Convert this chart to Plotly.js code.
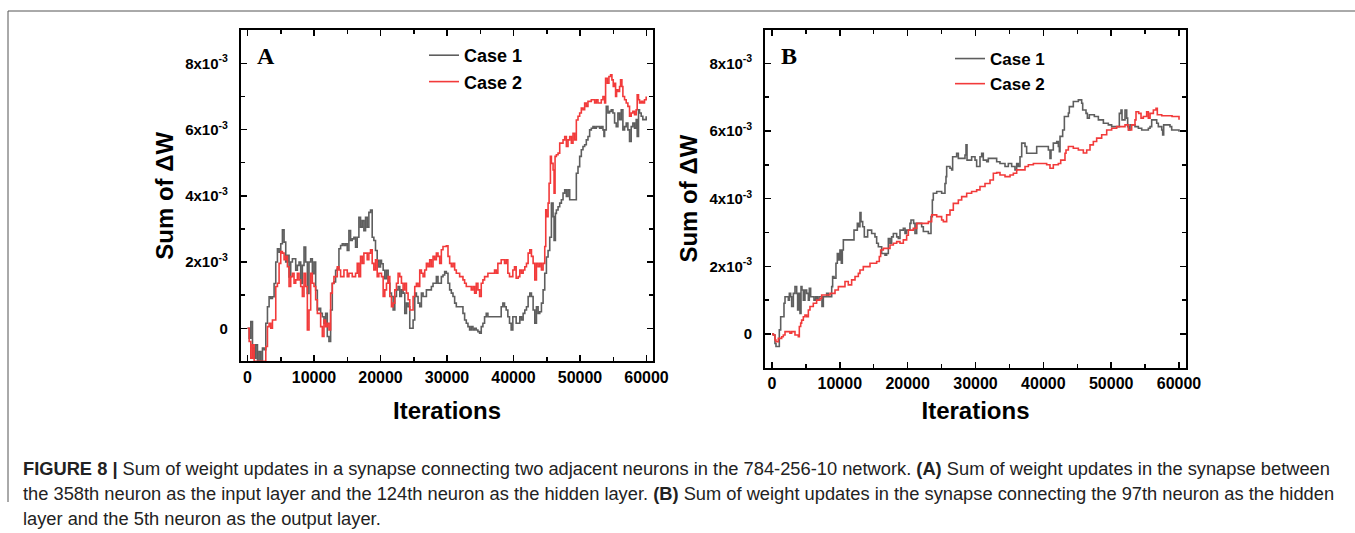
<!DOCTYPE html>
<html>
<head>
<meta charset="utf-8">
<script src="https://cdn.plot.ly/plotly-3.0.1.min.js"></script>
<style>html,body{margin:0;padding:0;background:#fff;}#chart{width:1355px;height:533px;}</style>
</head>
<body>
<div id="chart"></div>
<script>
// ---------- DATA (sum of ΔW in units of 1e-3) ----------
const iterA1 = [0,250,500,750,1000,1250,1500,1750,2000,2250,2500,2750,3000,3250,3500,3750,4000,4250,4500,4750,5000,5250,5500,5750,6000,6250,6500,6750,7000,7250,7500,7750,8000,8250,8500,8750,9000,9250,9500,9750,10000,10250,10500,10750,11000,11250,11500,11750,12000,12250,12500,12750,13000,13250,13500,13750,14000,14250,14500,14750,15000,15250,15500,15750,16000,16250,16500,16750,17000,17250,17500,17750,18000,18250,18500,18750,19000,19250,19500,19750,20000,20150,20400,20650,20900,21150,21400,21650,21900,22150,22400,22650,22900,23150,23400,23650,23900,24150,24400,24650,24900,25150,25400,25650,25900,26150,26400,26900,27400,27650,27900,28400,28650,28900,29150,29400,29650,29900,30150,30400,30650,30900,31150,31400,31900,32400,32650,32900,33150,33400,33650,33900,34150,34400,34650,34900,35150,35400,35650,35900,36150,36900,37900,38150,38400,38650,38900,39150,39400,39650,39900,40400,40950,41200,41450,41700,41950,42200,42450,42700,42950,43200,43450,43700,43950,44200,44450,44700,44950,45200,45450,45700,45950,46100,46300,46450,46700,46950,47200,47450,47700,47950,48200,48450,49200,49450,49700,49950,50200,50450,50700,50950,51200,51450,51700,51950,52200,52450,52950,53200,53450,53600,53700,53950,54200,54450,54700,54950,55200,55450,55700,55950,56200,56450,56700,56950,57200,57450,57700,57950,58200,58450,58600,58800,58950,59200,59450,59700,59950];
const sumA1 = [0,-0.3,0.2,-0.6,-0.9,-0.5,-1.0,-0.7,-1.0,-0.6,-0.65,0.15,0.65,0.95,0.9,0.95,1.35,2.0,2.4,2.3,2.55,2.97,2.6,2.0,2.2,1.55,2.0,2.1,2.1,1.75,1.9,2.0,1.35,1.9,2.45,2.0,1.05,2.0,2.1,1.65,2.0,1.15,0.55,0.6,0.45,0.35,0.15,0.45,-0.25,-0.4,0.55,1.35,1.4,1.75,1.8,2.4,2.5,2.55,2.5,2.55,2.35,2.95,2.65,2.7,2.75,2.45,2.75,3.35,3.05,3.25,2.95,3.35,3.05,3.5,3.57,2.75,2.65,2.35,2.05,1.85,2.05,1.95,1.75,1.5,1.75,1.36,1.06,0.96,0.55,0.96,1.16,1.26,0.96,1.16,1.06,0.45,0.76,0.65,0,0,0.25,1.06,0.96,0.76,0.65,1.06,0.96,1.16,1.16,1.26,1.36,1.56,1.36,1.36,1.56,1.61,1.71,1.66,1.36,1.16,1.06,0.96,0.76,0.65,0.65,0.45,0.25,0.15,0.05,-0.05,0.05,-0.05,0,-0.05,-0.1,-0.15,0.05,0.15,0.35,0.45,0.35,0.35,0.35,0.65,0.76,0.65,0.55,0.35,0.15,-0.05,0.35,0.15,0.35,0.25,0.45,0.55,0.65,0.96,1.06,0.96,0.55,0.15,0.65,0.45,0.5,0.76,1.16,1.66,2.15,2.35,2.75,3.78,3.37,2.65,3.47,3.57,3.67,3.78,3.88,4.08,4.18,3.98,4.18,3.88,3.88,4.68,4.88,5.19,5.39,5.49,5.54,5.69,5.79,5.99,6.04,6.09,6.04,6.09,6.04,6.09,5.99,5.79,5.99,6.7,6.5,6.55,6.6,6.5,6.2,6.09,6.5,6.3,6.6,5.99,6.09,6.2,5.99,5.64,6.09,6.2,6.04,6.3,5.79,6.6,6.5,6.4,6.3,6.3,6.4];

const iterA2 = [0,250,500,750,1000,1500,2000,2500,2750,3000,3250,3500,3750,4000,4250,4500,4750,5000,5250,5500,5750,6000,6250,6500,6750,7000,7250,7500,7750,8000,8250,8500,8750,9000,9250,9500,9750,10000,10250,10500,11000,11250,11500,11750,12000,12250,12500,12750,13000,13500,13750,14000,14500,15000,15250,15750,16250,16500,16750,17000,17250,17500,18000,18250,18500,18750,19000,19250,19500,19750,20150,20400,20650,20900,21150,21400,21650,21900,22150,22400,22650,22900,23150,23400,23650,23900,24150,24400,24650,24900,25150,25400,25650,25900,26150,26400,26650,26900,27150,27400,27650,27900,28150,28400,28650,28900,29150,29400,29900,30150,30400,30650,30900,31150,31400,31900,32400,32650,32900,33400,33650,33900,34150,34400,34650,34900,35150,35400,35650,36150,36900,37150,37400,37650,38150,38650,38900,39150,39400,39900,40150,40400,40700,40950,41200,41450,41700,41950,42200,42450,42700,42950,43200,43450,43700,43950,44200,44450,44700,44850,44950,45200,45350,45550,45700,45950,46100,46250,46450,46700,46950,47450,47700,47950,48200,48450,48700,48950,49200,49450,49700,49950,50200,50450,50700,50950,51200,51700,52200,52450,52700,53200,53450,53700,53850,54100,54350,54600,54800,55000,55200,55350,55500,55700,55950,56100,56300,56450,56700,56950,57200,57450,57700,57950,58200,58450,58600,58800,58950,59200,59450,59700,59950];
const sumA2 = [0,-0.4,-0.9,-0.5,-1.0,-1.0,-1.0,-1.0,-0.55,0.05,0.15,0,0.25,0.25,1.26,1.36,1.96,2.32,2.27,2.07,2.17,1.86,1.26,1.56,1.66,1.36,1.46,1.66,1.46,1.26,0.96,1.66,1.26,-0.05,0.55,1.66,1.36,1.26,0.86,0.45,0.05,-0.25,0.25,0.05,0.15,-0.05,1.06,1.36,1.56,1.86,1.76,1.56,1.76,1.56,1.66,1.56,1.66,1.96,1.56,2.17,1.96,2.27,2.07,2.27,2.37,1.96,1.76,2.07,1.56,1.66,1.56,0.96,1.16,1.36,1.56,0.96,0.65,0.76,1.16,1.36,1.66,1.56,1.36,1.16,1.36,1.06,0.86,0.55,0.55,0.96,1.26,1.36,1.26,1.76,1.66,1.56,1.76,1.96,1.86,2.07,1.86,2.17,2.07,2.27,2.17,1.96,2.37,2.47,2.49,2.17,1.96,1.86,1.96,1.76,1.66,1.56,1.46,1.36,1.26,1.26,1.16,1.26,1.06,1.36,1.16,0.96,1.36,1.46,1.56,1.66,1.66,1.76,1.66,1.96,2.07,1.96,2.07,1.66,1.56,1.76,1.86,1.51,1.56,1.76,1.66,1.76,1.86,1.96,2.27,2.37,2.17,1.96,1.46,1.96,1.86,1.96,1.76,1.96,2.47,3.58,3.37,3.78,4.38,5.19,4.98,4.78,4.08,5.19,5.24,5.29,5.59,5.69,5.79,5.49,5.69,5.79,5.59,5.89,5.69,6.29,6.4,6.5,6.65,6.6,6.8,6.7,6.85,6.9,6.8,6.9,6.8,6.9,7.0,6.8,7.55,7.4,7.6,7.65,7.5,7.3,7.4,7.0,7.2,7.15,7.3,7.5,7.3,7.0,6.9,6.8,6.7,6.4,6.5,6.55,6.45,6.6,7.05,6.9,6.8,6.85,6.8,6.9,7.0];

const iterB1 = [0,200,440,590,930,1080,1280,1570,1770,1920,2160,2410,2560,2750,2900,3150,3390,3640,3780,3930,4130,4280,4420,4620,4860,5110,5360,5500,5700,6190,6440,6680,6930,7370,7570,8060,8300,8800,8940,9140,9430,9630,9830,10020,10220,10370,10520,12090,12580,12730,12970,13120,13370,13610,14100,14690,15180,15430,15680,16170,16660,16900,17150,17400,17640,17890,18380,18620,18870,19360,19610,19850,20340,20490,20880,21080,21330,21820,22060,22310,23050,23290,23440,23640,23780,24280,25010,25500,25650,25750,26240,26490,26630,27220,27470,28450,28600,28750,29430,29930,30170,30420,30660,30910,31150,31650,31890,32380,33120,33610,34350,34840,35330,35820,36070,36310,36560,36810,37300,37540,38770,39020,40740,40980,41130,41470,41970,42210,42360,42460,42850,43100,43690,43830,44180,44420,45160,45650,45800,46290,46490,46780,47520,48110,48850,49580,50070,50810,51200,51450,51600,52040,52290,52430,52580,52780,53510,54010,54500,55480,55730,55970,56710,56950,57450,57590,57740,58670,58920,60000];
const sumB1 = [0,-0.03,-0.28,-0.37,-0.37,0.12,0.51,0.51,0.91,1.1,1.1,1.0,1.2,1.1,0.81,1.2,1.4,1.2,0.71,1.2,0.61,1.4,1.3,1.0,1.3,1.2,1.0,1.35,1.1,1.0,1.1,1.0,1.1,0.81,1.1,1.2,1.1,1.4,1.7,1.65,2.09,2.38,2.19,2.48,2.09,2.48,2.78,3.07,3.27,3.17,3.59,3.32,3.17,2.87,3.07,2.97,2.87,2.68,2.58,2.38,2.33,2.38,2.82,2.68,2.87,2.97,2.87,2.82,3.07,3.12,2.97,3.07,3.27,3.37,3.27,2.97,3.27,3.27,3.17,3.03,2.97,2.97,3.47,3.96,4.16,4.21,4.16,4.45,4.65,4.95,4.9,4.85,5.24,5.34,5.19,5.29,5.59,5.14,5.24,5.14,4.95,4.95,5.24,5.34,5.14,5.09,5.19,5.19,5.09,5.04,4.95,5.04,4.95,4.85,5.04,4.95,5.24,5.64,5.54,5.34,5.34,5.54,5.44,5.19,5.44,5.64,5.69,5.54,5.39,5.84,6.03,6.43,6.53,6.72,6.72,6.87,6.92,6.82,6.62,6.52,6.38,6.48,6.43,6.33,6.23,6.18,6.13,6.13,6.52,6.62,6.33,6.62,6.38,6.13,6.03,6.18,6.13,6.08,6.03,6.08,6.13,6.33,6.23,6.13,6.03,5.88,6.18,6.13,6.03,5.98];

const iterB2 = [0,200,440,590,930,1430,1670,1920,2410,2650,2900,3390,3880,4030,4230,4370,4620,4860,5110,5360,5600,6090,6580,7080,7320,7810,8550,9290,9780,10270,10760,11250,11740,12240,12730,12970,13460,13960,14450,14940,15430,15820,16020,16410,16900,17400,17890,18380,18870,19360,19850,20100,20830,21330,22060,23050,23540,24280,25010,25260,25750,26240,26730,27470,27960,28700,29430,30170,30660,31400,32140,32630,33120,33610,34350,35090,35580,36070,36810,37300,37790,38530,39020,39750,40490,40980,41470,42210,42560,42950,43190,43340,43690,44420,45160,45900,46390,46880,47370,47860,48600,49340,50070,50810,51550,52040,52530,53020,53510,53660,54050,54400,54740,55230,55480,55730,56220,56610,56800,57450,58970,60000];
const sumB2 = [0,-0.03,-0.18,-0.23,-0.13,-0.08,-0.03,0.07,0.07,0.02,0.07,-0.03,-0.08,0.22,0.32,0.41,0.51,0.56,0.51,0.71,0.81,0.91,1.0,1.05,1.15,1.15,1.2,1.3,1.4,1.4,1.55,1.45,1.6,1.7,1.79,1.89,1.99,1.99,2.09,2.09,2.14,2.29,2.48,2.53,2.53,2.63,2.68,2.73,2.68,2.78,2.92,3.07,3.12,3.27,3.27,3.32,3.52,3.47,3.37,3.32,3.52,3.66,3.86,3.96,4.06,4.16,4.21,4.26,4.36,4.45,4.55,4.75,4.77,4.70,4.65,4.70,4.75,4.85,4.85,4.95,5.0,5.04,5.04,5.04,5.0,4.9,5.0,5.04,5.14,5.14,5.34,5.44,5.54,5.49,5.44,5.35,5.44,5.59,5.69,5.79,5.89,6.03,6.08,6.13,6.13,6.18,6.03,6.18,6.33,6.57,6.52,6.38,6.43,6.57,6.38,6.52,6.62,6.67,6.48,6.45,6.43,6.33];

const seriesNames = ['Case 1', 'Case 2'];
const yTickVals = [0, 2, 4, 6, 8];
const yTickText = ['0', '2x10<sup>-3</sup>', '4x10<sup>-3</sup>', '6x10<sup>-3</sup>', '8x10<sup>-3</sup>'];
const panelLetters = ['A', 'B'];
const captionLines = [
  '<b>FIGURE 8 |</b> Sum of weight updates in a synapse connecting two adjacent neurons in the 784-256-10 network. <b>(A)</b> Sum of weight updates in the synapse between',
  'the 358th neuron as the input layer and the 124th neuron as the hidden layer. <b>(B)</b> Sum of weight updates in the synapse connecting the 97th neuron as the hidden',
  'layer and the 5th neuron as the output layer.'
];

// ---------- STYLE ----------
const SANS = 'Arial, "Liberation Sans", sans-serif';
const SERIF = '"Times New Roman", "Liberation Serif", serif';
const GRAY = '#5e5e5e', RED = '#f23a3a';
const W = 1355, H = 533;
const px = v => v / W, py = v => 1 - v / H;

function mkTrace(x, y, name, color, xa, ya, leg) {
  return {x: x, y: y, name: name, type: 'scatter', mode: 'lines',
    line: {color: color, width: 1.6, shape: 'hv'},
    xaxis: xa, yaxis: ya, legend: leg, hoverinfo: 'skip'};
}
const traces = [
  mkTrace(iterA1, sumA1, seriesNames[0], GRAY, 'x', 'y', 'legend'),
  mkTrace(iterA2, sumA2, seriesNames[1], RED, 'x', 'y', 'legend'),
  mkTrace(iterB1, sumB1, seriesNames[0], GRAY, 'x2', 'y2', 'legend2'),
  mkTrace(iterB2, sumB2, seriesNames[1], RED, 'x2', 'y2', 'legend2')
];

function xAxis(dom, anchor, titleStandoff) {
  return {domain: dom, anchor: anchor, range: [-1000, 61000], tickmode: 'linear', tick0: 0, dtick: 10000, tickformat: 'd',
    showline: true, linecolor: '#000', linewidth: 2, mirror: 'ticks',
    ticks: 'inside', ticklen: 6, tickwidth: 1.5, tickcolor: '#000',
    minor: {tickmode: 'linear', tick0: 0, dtick: 5000, ticks: 'inside', ticklen: 4, tickwidth: 1.5, tickcolor: '#000'},
    showgrid: false, zeroline: false, automargin: false, ticklabelstandoff: 0,
    tickfont: {family: SANS, size: 16, color: '#000', weight: 'bold'},
    title: {text: 'Iterations', font: {family: SANS, size: 24, color: '#000', weight: 'bold'}, standoff: titleStandoff}};
}
function yAxis(dom, anchor) {
  return {domain: dom, anchor: anchor, range: [-1, 9], tickmode: 'array', tickvals: yTickVals, ticktext: yTickText,
    showline: true, linecolor: '#000', linewidth: 2, mirror: 'ticks',
    ticks: 'inside', ticklen: 6, tickwidth: 1.5, tickcolor: '#000',
    minor: {tickmode: 'linear', tick0: 0, dtick: 1, ticks: 'inside', ticklen: 4, tickwidth: 1.5, tickcolor: '#000'},
    showgrid: false, zeroline: false, automargin: false, ticklabelstandoff: 8,
    tickfont: {family: SANS, size: 15, color: '#000', weight: 'bold'},
    title: {text: 'Sum of \u0394W', font: {family: SANS, size: 24, color: '#000', weight: 'bold'}, standoff: 5}};
}

const layout = {
  width: W, height: H, margin: {l: 0, r: 0, t: 0, b: 0},
  paper_bgcolor: '#fff', plot_bgcolor: '#fff', showlegend: true,
  xaxis: xAxis([px(240.85), px(653.15)], 'y', 18),
  yaxis: yAxis([1 - 361.4 / H, 1 - 30.2 / H], 'x'),
  xaxis2: xAxis([px(765.2), px(1185.8)], 'y2', 11),
  yaxis2: yAxis([1 - 367.8 / H, 1 - 29.5 / H], 'x2'),
  legend: {x: px(424), y: py(37), xanchor: 'left', yanchor: 'top', bgcolor: 'rgba(0,0,0,0)',
    font: {family: SANS, size: 18, color: '#000', weight: 'bold'}, tracegroupgap: 0},
  legend2: {x: px(950), y: py(41), xanchor: 'left', yanchor: 'top', bgcolor: 'rgba(0,0,0,0)',
    font: {family: SANS, size: 17, color: '#000', weight: 'bold'}, tracegroupgap: 0},
  shapes: [
    {type: 'line', xref: 'paper', yref: 'paper', x0: px(8), x1: px(1355), y0: py(11), y1: py(11), line: {color: '#555', width: 1}},
    {type: 'line', xref: 'paper', yref: 'paper', x0: px(8), x1: px(8), y0: py(11), y1: py(502), line: {color: '#555', width: 1}}
  ],
  annotations: [
    {text: panelLetters[0], xref: 'paper', yref: 'paper', x: px(266), y: py(56), xanchor: 'center', yanchor: 'middle', showarrow: false,
      font: {family: SERIF, size: 24, color: '#000', weight: 'bold'}},
    {text: panelLetters[1], xref: 'paper', yref: 'paper', x: px(789), y: py(56), xanchor: 'center', yanchor: 'middle', showarrow: false,
      font: {family: SERIF, size: 24, color: '#000', weight: 'bold'}}
  ].concat(captionLines.map((t, i) => ({
      text: t, xref: 'paper', yref: 'paper', x: px(21), y: py(468 + 25 * i), xanchor: 'left', yanchor: 'middle', showarrow: false,
      font: {family: SANS, size: 18.3, color: '#222'}})))
};

Plotly.newPlot('chart', traces, layout, {displayModeBar: false, staticPlot: true});
</script>
</body>
</html>
